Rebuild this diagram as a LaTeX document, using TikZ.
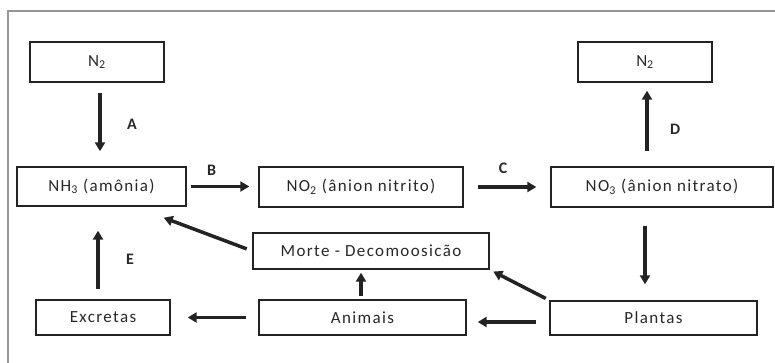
\documentclass[tikz,border=0pt]{standalone}
\usepackage{fontspec}
\setmainfont{Carlito}[LetterSpace=8]
\usepackage{tikz}
\usetikzlibrary{positioning,arrows.meta,calc}
\definecolor{colorframe}{RGB}{150,150,150}
\definecolor{colorbox}  {RGB}{ 35, 35, 35}
\definecolor{colortext} {RGB}{ 40, 40, 40}

\begin{document}
\begin{tikzpicture}[
    x=1pt, y=-1pt,
    font={\fontsize{17}{19}\selectfont},
    >={Triangle[length=9pt,width=10pt]},
    box/.style={draw=colorbox,line width=1.4pt,text=colortext,inner sep=0pt,align=center,rectangle},
    flow/.style={->,line width=3.5pt,colorbox},
    lbl/.style={text=colortext,font={\fontsize{16}{18}\selectfont\bfseries}},
]

    \useasboundingbox (0,0) rectangle (775,363);
    \draw[colorframe,line width=1.5pt] (8,363) -- (8,11) -- (775,11);

    \node[box,minimum width=134pt,minimum height=40pt] (n2a)      at ( 97,  62) {N\textsubscript{2}};
    \node[box,minimum width=134pt,minimum height=40pt] (n2b)      at (645,  62) {N\textsubscript{2}};
    \node[box,minimum width=169pt,minimum height=39pt] (nh3)      at (101.5,186.5) {NH\textsubscript{3} (amônia)};
    \node[box,minimum width=204pt,minimum height=40pt] (no2)      at (361, 187) {NO\textsubscript{2} (ânion nitrito)};
    \node[box,minimum width=222pt,minimum height=40pt] (no3)      at (662, 187) {NO\textsubscript{3} (ânion nitrato)};
    \node[box,minimum width=236pt,minimum height=36pt] (morte)    at (371, 251) {Morte - Decomoosicão};
    \node[box,minimum width=134pt,minimum height=35pt] (excretas) at (103, 317.5) {Excretas};
    \node[box,minimum width=207pt,minimum height=35pt] (animais)  at (362.5,317.5) {Animais};
    \node[box,minimum width=207pt,minimum height=34pt] (plantas)  at (653.5,318) {Plantas};

    \draw[flow,shorten <=10pt,shorten >=15pt] ([xshift=3pt]n2a.south) -- ([xshift=3pt]n2a.south |- nh3.north)
        node[lbl,midway,right=22pt] {A};
    \draw[flow,shorten <=4pt,shorten >=9pt] (nh3.east) -- (nh3.east -| no2.west)
        node[lbl,midway,above=6pt,xshift=-11pt] {B};
    \draw[flow,shorten <=14pt,shorten >=14pt] (no2.east) -- (no2.east -| no3.west)
        node[lbl,midway,above=8pt,xshift=-4pt] {C};
    \draw[flow,shorten <=15pt,shorten >=8pt] ([xshift=2pt]n2b.south |- no3.north) -- ([xshift=2pt]n2b.south)
        node[lbl,midway,right=18pt,yshift=-5pt] {D};
    \draw[flow,shorten <=18pt,shorten >=16pt] (n2b |- no3.south) -- (n2b |- plantas.north);
    \draw[flow,shorten <=13pt,shorten >=11pt] ([yshift=-4pt]plantas.west) -- ([yshift=-4pt]plantas.west -| animais.east);
    \draw[flow,shorten <=12pt,shorten >=17pt] (animais.west) -- (animais.west -| excretas.east);
    \draw[flow,shorten <=10pt,shorten >=24pt] ([xshift=1pt]n2a |- excretas.north) -- ([xshift=1pt]n2a |- nh3.south)
        node[lbl,midway,right=23pt,yshift=-6pt] {E};
    \draw[flow,shorten <=3pt,shorten >=3pt] (no2 |- animais.north) -- (no2 |- morte.south);
    \draw[flow,shorten <=6pt] (morte.west) -- ([xshift=-23pt,yshift=-11pt]nh3.south east);
    \draw[flow,shorten <=4pt,shorten >=4pt] (plantas.north west) -- (morte.south east);

\end{tikzpicture}
\end{document}
